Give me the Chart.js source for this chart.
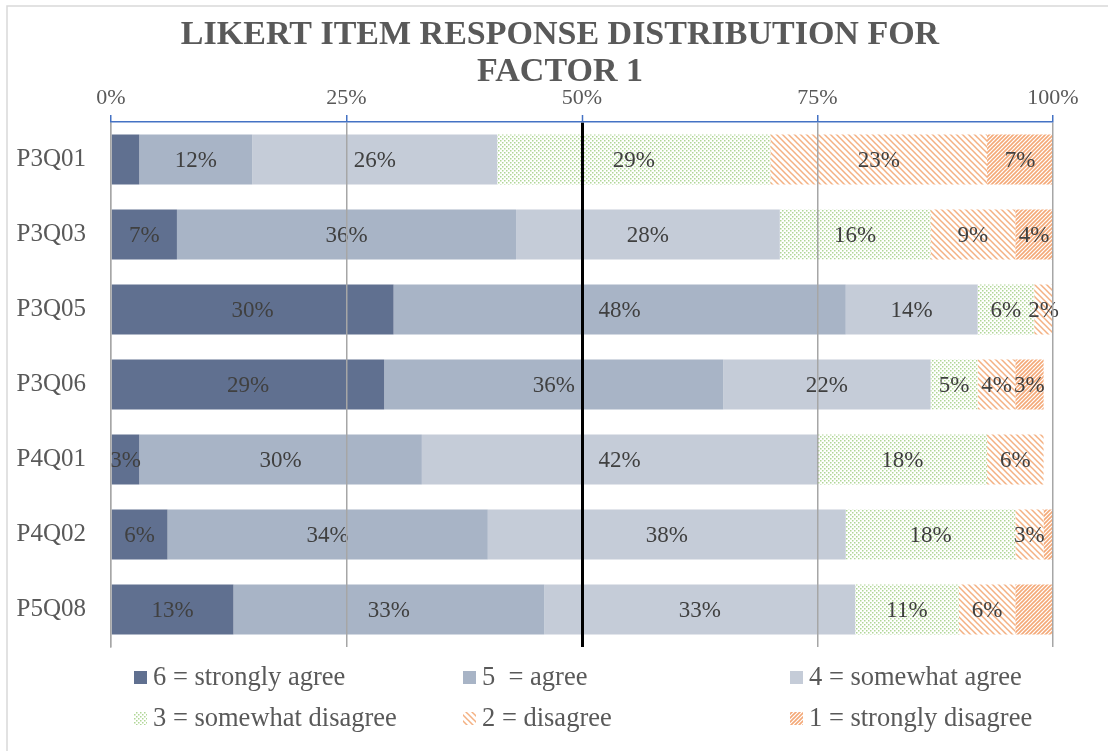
<!DOCTYPE html>
<html>
<head>
<meta charset="utf-8">
<title>Likert item response distribution</title>
<script src="https://cdn.jsdelivr.net/npm/chart.js@4.4.0/dist/chart.umd.min.js"></script>
<style>
  html, body { margin: 0; padding: 0; background: #fff; }
  #wrap { width: 1108px; height: 751px; }
</style>
</head>
<body>
<div id="wrap"><canvas id="likertChart" width="1108" height="751"></canvas></div>
<script>
const items = ['P3Q01', 'P3Q03', 'P3Q05', 'P3Q06', 'P4Q01', 'P4Q02', 'P5Q08'];

// percent of responses per item, one array per answer
const stronglyAgree    = [3, 7, 30, 29, 3, 6, 13];
const agree            = [12, 36, 48, 36, 30, 34, 33];
const somewhatAgree    = [26, 28, 14, 22, 42, 38, 33];
const somewhatDisagree = [29, 16, 6, 5, 18, 18, 11];
const disagree         = [23, 9, 2, 4, 6, 3, 6];
const stronglyDisagree = [7, 4, 0, 3, 0, 1, 4];

const answerLabels = [
  '6 = strongly agree', '5  = agree', '4 = somewhat agree',
  '3 = somewhat disagree', '2 = disagree', '1 = strongly disagree'
];
const xTicks = [0, 25, 50, 75, 100];

// segments whose value label was left off
const unlabeled = [[0, 'P3Q01'], [5, 'P4Q02'], [5, 'P5Q08']];

const SERIF = "'Liberation Serif', 'Times New Roman', serif";
const canvas = document.getElementById('likertChart');
const ctx = canvas.getContext('2d');

function makePattern(size, draw) {
  const c = document.createElement('canvas');
  c.width = size;
  c.height = size;
  const g = c.getContext('2d');
  g.fillStyle = '#ffffff';
  g.fillRect(0, 0, size, size);
  draw(g, size);
  return ctx.createPattern(c, 'repeat');
}

const dotted = makePattern(4, g => {
  g.fillStyle = '#b0d696';
  g.fillRect(0, 0, 1.5, 1.5);
  g.fillRect(2, 2, 1.5, 1.5);
});

const downHatch = makePattern(6, (g, s) => {
  g.strokeStyle = '#f4b183';
  g.lineWidth = 1.5;
  g.beginPath();
  g.moveTo(-1, -1); g.lineTo(s + 1, s + 1);
  g.moveTo(-1, s - 1); g.lineTo(1, s + 1);
  g.moveTo(s - 1, -1); g.lineTo(s + 1, 1);
  g.stroke();
});

const upHatch = makePattern(4, (g, s) => {
  g.strokeStyle = '#f4a978';
  g.lineWidth = 1.6;
  g.beginPath();
  g.moveTo(-1, s + 1); g.lineTo(s + 1, -1);
  g.moveTo(-1, 1); g.lineTo(1, -1);
  g.moveTo(s - 1, s + 1); g.lineTo(s + 1, s - 1);
  g.stroke();
});

const seriesValues = [stronglyAgree, agree, somewhatAgree, somewhatDisagree, disagree, stronglyDisagree];
const fills = ['#607090', '#a8b4c6', '#c5ccd8', dotted, downHatch, upHatch];

const datasets = seriesValues.map((vals, i) => ({
  label: answerLabels[i],
  data: vals,
  backgroundColor: fills[i],
  borderWidth: 0,
  categoryPercentage: 1,
  barPercentage: 0.667
}));

const likertDecor = {
  id: 'likertDecor',
  beforeDraw(chart) {
    const c = chart.ctx;
    c.save();
    c.fillStyle = '#ffffff';
    c.fillRect(0, 0, chart.width, chart.height);
    c.strokeStyle = '#d9d9d9';
    c.lineWidth = 1.5;
    c.strokeRect(7, 6, chart.width + 10, chart.height + 10);

    c.fillStyle = '#595959';
    c.font = 'bold 34px ' + SERIF;
    c.textAlign = 'center';
    c.textBaseline = 'alphabetic';
    c.fillText('LIKERT ITEM RESPONSE DISTRIBUTION FOR', 560, 44);
    c.fillText('FACTOR 1', 560, 81);
    c.restore();
  },
  afterDatasetsDraw(chart) {
    const c = chart.ctx;
    c.save();
    c.font = '23px ' + SERIF;
    c.fillStyle = '#404040';
    c.textAlign = 'center';
    c.textBaseline = 'middle';
    chart.data.datasets.forEach((ds, di) => {
      const meta = chart.getDatasetMeta(di);
      meta.data.forEach((bar, idx) => {
        const v = ds.data[idx];
        if (!v) return;
        if (unlabeled.some(u => u[0] === di && u[1] === items[idx])) return;
        c.fillText(v + '%', (bar.x + bar.base) / 2, bar.y + 1);
      });
    });
    c.restore();
  },
  afterDraw(chart) {
    const c = chart.ctx;
    const cols = [134, 463, 790];
    const rows = [677, 718];
    c.save();
    c.font = '26.5px ' + SERIF;
    c.textAlign = 'left';
    c.textBaseline = 'middle';
    chart.data.datasets.forEach((ds, i) => {
      const x = cols[i % 3];
      const y = rows[Math.floor(i / 3)];
      c.fillStyle = ds.backgroundColor;
      c.fillRect(x, y - 6, 13, 13);
      c.fillStyle = '#595959';
      c.fillText(ds.label, x + 19, y + 1);
    });
    c.restore();
  }
};

new Chart(ctx, {
  type: 'bar',
  data: { labels: items, datasets: datasets },
  options: {
    indexAxis: 'y',
    responsive: false,
    animation: false,
    devicePixelRatio: 1,
    layout: { padding: { top: 82, left: 0, right: 55, bottom: 104 } },
    plugins: {
      legend: { display: false },
      title: { display: false },
      tooltip: { enabled: false }
    },
    scales: {
      x: {
        type: 'linear',
        position: 'top',
        stacked: true,
        min: 0,
        max: 100,
        afterBuildTicks: s => { s.ticks = xTicks.map(v => ({ value: v })); },
        afterFit: s => { s.height = 40; },
        ticks: {
          callback: v => v + '%',
          color: '#595959',
          font: { family: SERIF, size: 22 },
          padding: 4,
          maxRotation: 0
        },
        grid: {
          z: 1,
          color: c => (c.tick && c.tick.value === 50 ? '#000000' : '#a6a6a6'),
          lineWidth: c => (c.tick && c.tick.value === 50 ? 3 : 1.5),
          tickLength: 7,
          tickColor: '#4472c4',
          tickWidth: 1.5
        },
        border: { display: true, color: '#4472c4', width: 1.5, z: 1 }
      },
      y: {
        stacked: true,
        afterFit: s => { s.width = 111; },
        grid: { display: false, drawTicks: false },
        border: { display: true, color: '#bfbfbf', width: 1.5 },
        ticks: {
          color: '#595959',
          font: { family: SERIF, size: 25 },
          padding: 25
        }
      }
    }
  },
  plugins: [likertDecor]
});
</script>
</body>
</html>
